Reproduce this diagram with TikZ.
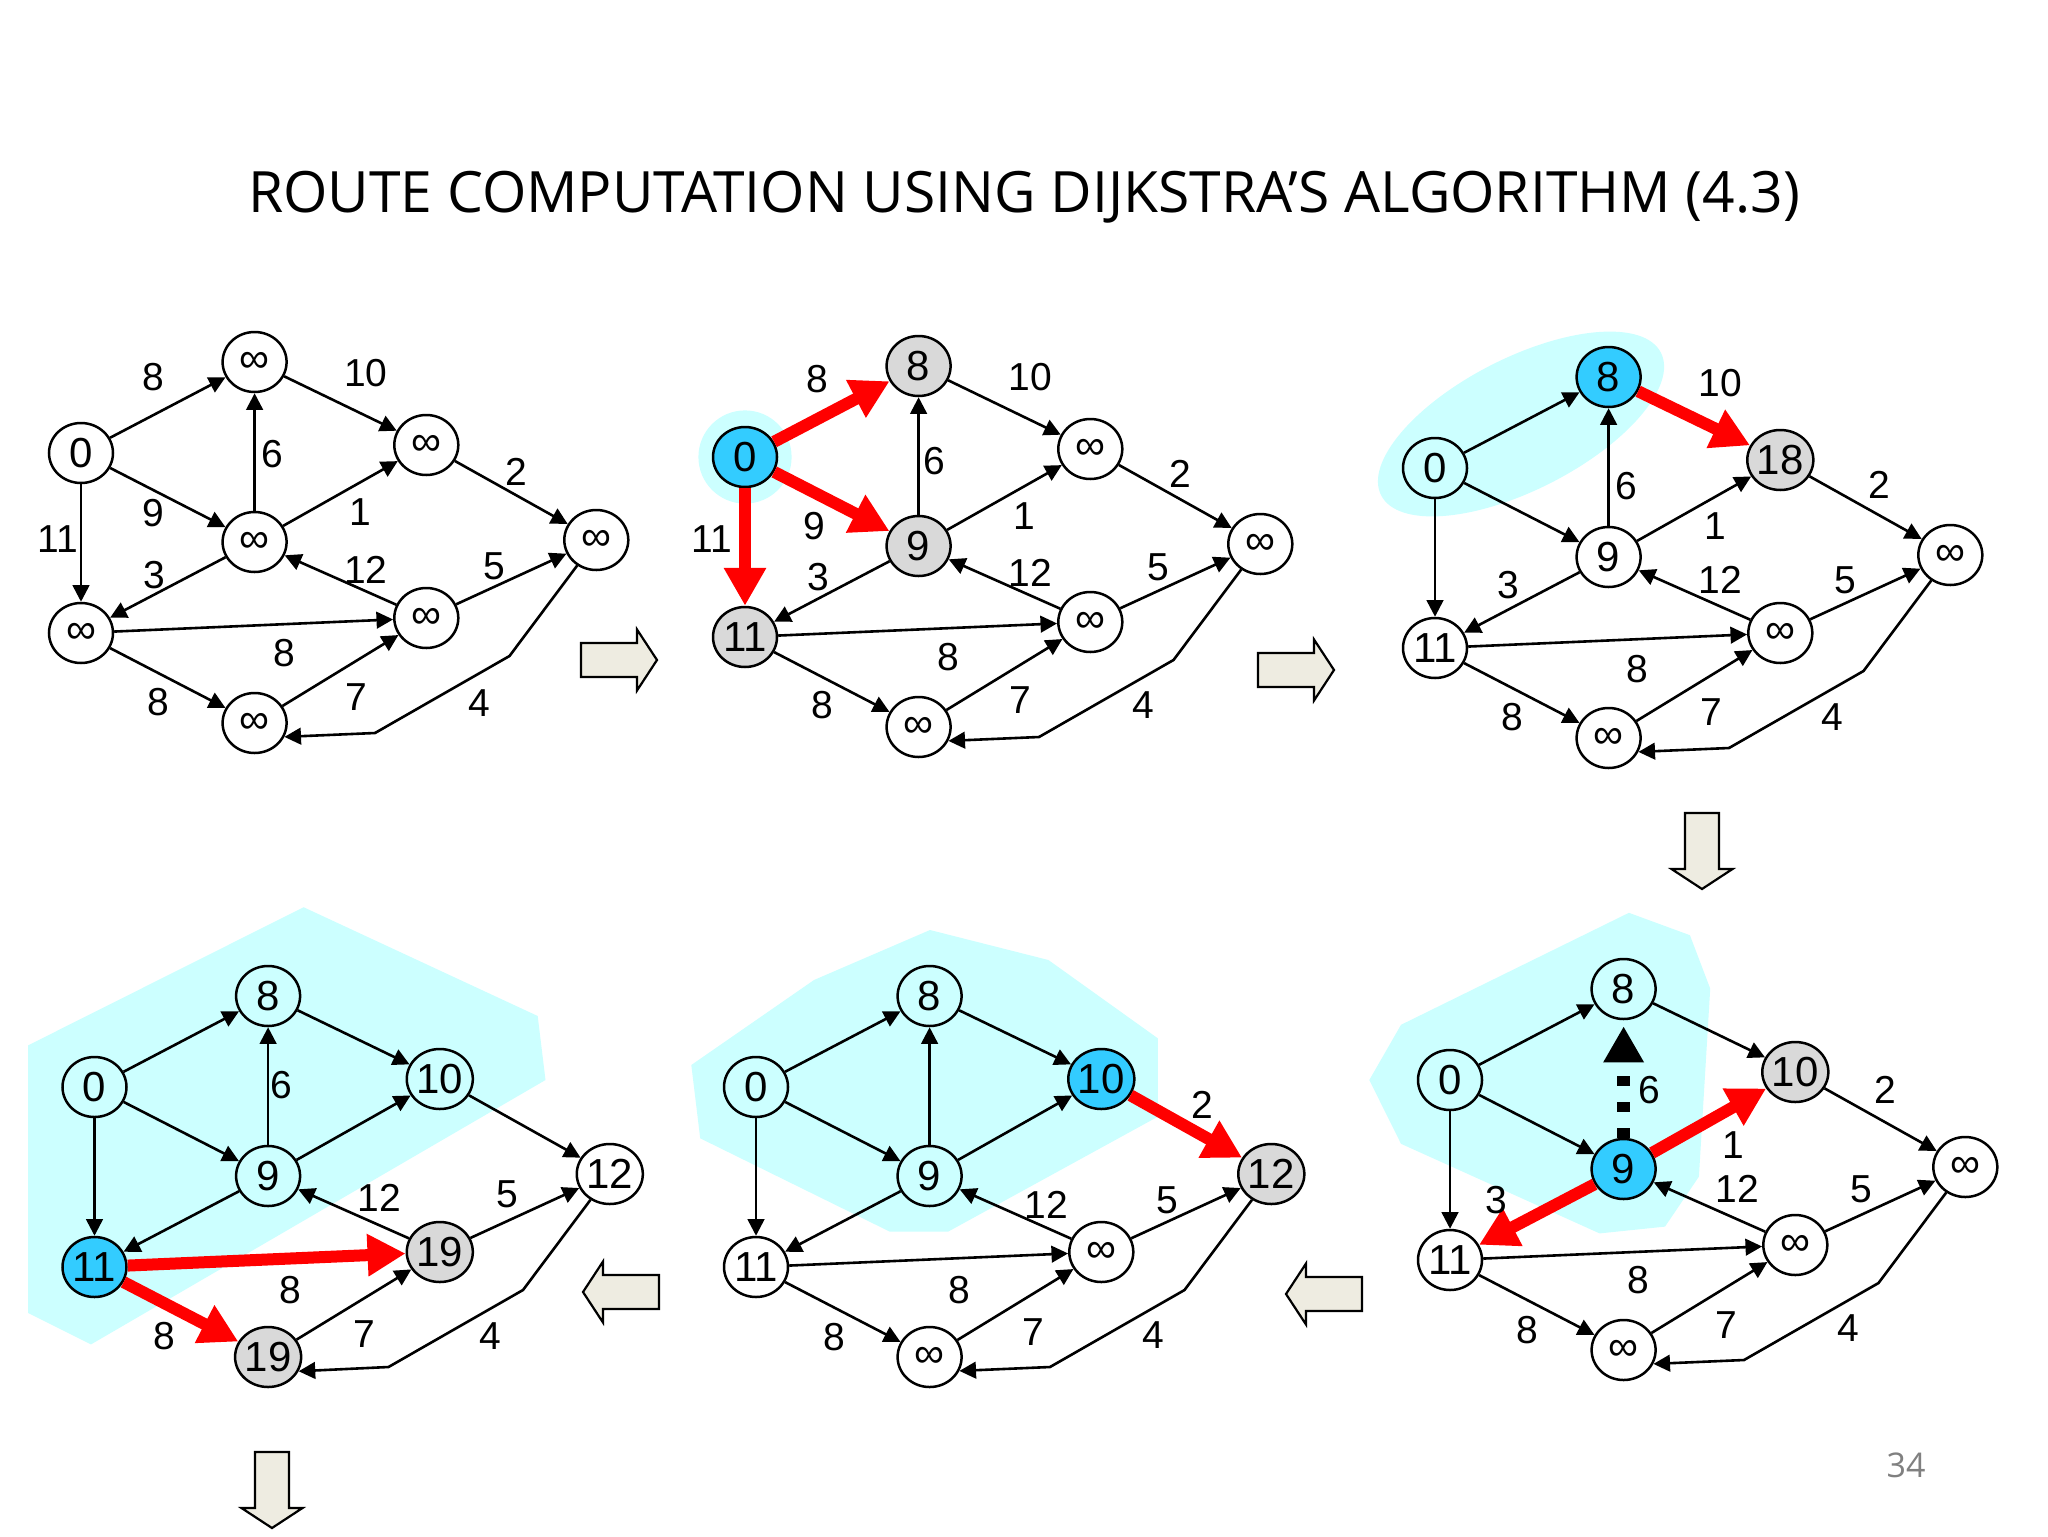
\documentclass[tikz,border=0pt]{standalone}
\usepackage{fontspec}
\setmainfont{Liberation Sans}
\newfontfamily\titlefont{Open Sans}
\newfontfamily\numfont{Liberation Sans}
\usetikzlibrary{arrows.meta,shapes.geometric}
\definecolor{nodeblue}{RGB}{51,204,255}
\definecolor{nodegray}{RGB}{217,217,217}
\definecolor{halocyan}{RGB}{204,255,255}
\definecolor{blockfill}{RGB}{238,236,225}
\definecolor{pagegray}{RGB}{128,128,128}
\tikzset{
  gnode/.style={ellipse, draw=black, line width=1.25pt, minimum width=32pt, minimum height=30pt, inner sep=0pt, font=\numfont\fontsize{21}{21}\selectfont},
  bluenode/.style={fill=nodeblue},
  graynode/.style={fill=nodegray},
  thinarrow/.style={draw=black, line width=1.3pt, -{Triangle[length=8.3pt,width=8.3pt]}},
  redarrow/.style={draw=red, line width=6pt, -{Triangle[length=19pt,width=20pt]}},
  dasharrow/.style={draw=black, line width=6.3pt, dash pattern=on 5pt off 8pt, -{Triangle[length=18pt,width=19pt]}, shorten >=3pt},
  elabel/.style={font=\numfont\fontsize{19.5}{19.5}\selectfont, inner sep=0pt},
  halo/.style={fill=halocyan},
  blockstyle/.style={draw=black, line width=1.1pt, fill=blockfill},
  blockarr/.pic={\draw[blockstyle] (0,-17) -- (56,-17) -- (56,-30.5) -- (76,0) -- (56,30.5) -- (56,17) -- (0,17) -- cycle;}
}
\newcommand\gnd[5]{\node[gnode,#2] (#1) at (#3,#4) {#5};}
\newcommand\elab[4]{\node[elabel] (#1) at (#2,#3) {#4};}
\newcommand\thinset[2]{\foreach \u/\v in {#2}{\draw[thinarrow] (#1\u) -- (#1\v);}}
\newcommand\kinkset[1]{\coordinate (#1k1) at (509.5,656); \coordinate (#1k2) at (375,733); \draw[thinarrow] (#1d) -- (#1k1) -- (#1k2) -- (#1g.-25);}
\begin{document}
\begin{tikzpicture}[x=0.5pt,y=-0.5pt]
\fill[white] (0,0) rectangle (2048,1536);
\useasboundingbox (0,0) rectangle (2048,1536);

% title and page number
\node[font=\titlefont\fontsize{28.5}{30}\selectfont] (title) at (1024,197) {ROUTE COMPUTATION USING DIJKSTRA’S ALGORITHM (4.3)};
\node[font=\titlefont\fontsize{17}{17}\selectfont, text=pagegray] (pagenum) at (1906,1465) {34};

% halos (absolute)
\fill[halo] (303.6,907.2) -- (537.7,1016) -- (545.5,1080) -- (91,1344.4) -- (28.2,1313) -- (28.2,1045.3) -- cycle;
\fill[halo] (930,930) -- (1048.4,960) -- (1157.8,1038.3) -- (1157.8,1116.7) -- (948,1231.7) -- (889.9,1231.7) -- (700.2,1138.3) -- (691.3,1065) -- (814,980) -- cycle;
\fill[halo] (1628.9,912.8) -- (1689.9,935.2) -- (1710.2,988.6) -- (1698.9,1176.6) -- (1665,1226.6) -- (1599.6,1233.4) -- (1401,1143.8) -- (1369.3,1080) -- (1401,1024.8) -- cycle;

% block arrows
\pic at (581,660) {blockarr};
\pic at (1258,670) {blockarr};
\pic[rotate=-90] at (1702,813) {blockarr};
\pic[rotate=180] at (1362,1294) {blockarr};
\pic[rotate=180] at (659,1292) {blockarr};
\pic[rotate=-90] at (272,1452) {blockarr};

% ---------------- panel 1
\begin{scope}
\gnd{p1s}{}{81}{453}{0}
\gnd{p1a}{}{254.6}{362}{∞}
\gnd{p1b}{}{426.3}{445}{∞}
\gnd{p1c}{}{254.6}{542}{∞}
\gnd{p1d}{}{596.3}{540}{∞}
\gnd{p1e}{}{81}{633}{∞}
\gnd{p1f}{}{426.3}{618}{∞}
\gnd{p1g}{}{254.6}{723}{∞}
\thinset{p1}{s/a,a/b,c/a,b/d,s/c,c/b,s/e,c/e,f/c,f/d,e/f,e/g,g/f}
\kinkset{p1}
\elab{p1l1}{153}{377}{8}
\elab{p1l2}{366}{373}{10}
\elab{p1l3}{272}{454}{6}
\elab{p1l4}{516}{472}{2}
\elab{p1l5}{153}{513}{9}
\elab{p1l6}{360}{512}{1}
\elab{p1l7}{58}{539}{11}
\elab{p1l8}{154}{575}{3}
\elab{p1l9}{366}{570}{12}
\elab{p1l10}{494}{566}{5}
\elab{p1l11}{284}{653}{8}
\elab{p1l12}{158}{702}{8}
\elab{p1l13}{356}{697}{7}
\elab{p1l14}{479}{703}{4}
\end{scope}

% ---------------- panel 2
\begin{scope}[shift={(664,4)}]
\fill[halo] (81,453) circle [radius=23.3pt];
\gnd{p2s}{bluenode}{81}{453}{0}
\gnd{p2a}{graynode}{254.6}{362}{8}
\gnd{p2b}{}{426.3}{445}{∞}
\gnd{p2c}{graynode}{254.6}{542}{9}
\gnd{p2d}{}{596.3}{540}{∞}
\gnd{p2e}{graynode}{81}{633}{11}
\gnd{p2f}{}{426.3}{618}{∞}
\gnd{p2g}{}{254.6}{723}{∞}
\thinset{p2}{a/b,c/a,b/d,c/b,c/e,f/c,f/d,e/f,e/g,g/f}
\kinkset{p2}
\draw[redarrow] (p2s) -- (p2a);
\draw[redarrow] (p2s) -- (p2c);
\draw[redarrow] (p2s) -- (p2e);
\elab{p2l1}{153}{375}{8}
\elab{p2l2}{366}{373}{10}
\elab{p2l3}{270}{457}{6}
\elab{p2l4}{516}{470}{2}
\elab{p2l5}{150}{522}{9}
\elab{p2l6}{360}{512}{1}
\elab{p2l7}{48}{535}{11}
\elab{p2l8}{154}{573}{3}
\elab{p2l9}{366}{569}{12}
\elab{p2l10}{494}{563}{5}
\elab{p2l11}{284}{653}{8}
\elab{p2l12}{158}{701}{8}
\elab{p2l13}{356}{696}{7}
\elab{p2l14}{479}{701}{4}
\end{scope}

% ---------------- panel 3
\begin{scope}[shift={(1354,15)}]
\fill[halo, rotate around={27:(167,409)}] (167,409) ellipse [x radius=78.5pt, y radius=33pt];
\gnd{p3s}{}{81}{453}{0}
\gnd{p3a}{bluenode}{254.6}{362}{8}
\gnd{p3b}{graynode}{426.3}{445}{18}
\gnd{p3c}{}{254.6}{542}{9}
\gnd{p3d}{}{596.3}{540}{∞}
\gnd{p3e}{}{81}{633}{11}
\gnd{p3f}{}{426.3}{618}{∞}
\gnd{p3g}{}{254.6}{723}{∞}
\thinset{p3}{s/a,c/a,b/d,s/c,c/b,s/e,c/e,f/c,f/d,e/f,e/g,g/f}
\kinkset{p3}
\draw[redarrow] (p3a) -- (p3b);
\elab{p3l2}{366}{368}{10}
\elab{p3l3}{272}{471}{6}
\elab{p3l4}{525}{470}{2}
\elab{p3l6}{361}{511}{1}
\elab{p3l8}{154}{570}{3}
\elab{p3l9}{366}{565}{12}
\elab{p3l10}{491}{565}{5}
\elab{p3l11}{283}{654}{8}
\elab{p3l12}{158}{702}{8}
\elab{p3l13}{357}{697}{7}
\elab{p3l14}{478}{702}{4}
\end{scope}

% ---------------- panel 4
\begin{scope}[shift={(13.5,634)}]
\gnd{p4s}{}{81}{453}{0}
\gnd{p4a}{}{254.6}{362}{8}
\gnd{p4b}{}{426.3}{445}{10}
\gnd{p4c}{}{254.6}{542}{9}
\gnd{p4d}{}{596.3}{540}{12}
\gnd{p4e}{bluenode}{81}{633}{11}
\gnd{p4f}{graynode}{426.3}{618}{19}
\gnd{p4g}{graynode}{254.6}{723}{19}
\thinset{p4}{s/a,a/b,c/a,b/d,s/c,c/b,s/e,c/e,f/c,f/d,g/f}
\kinkset{p4}
\draw[redarrow] (p4e) -- (p4f);
\draw[redarrow] (p4e) -- (p4g);
\elab{p4l3}{268}{451}{6}
\elab{p4l9}{366}{564}{12}
\elab{p4l10}{494}{560}{5}
\elab{p4l11}{277}{656}{8}
\elab{p4l12}{151}{702}{8}
\elab{p4l13}{351}{700}{7}
\elab{p4l14}{477}{702}{4}
\end{scope}

% ---------------- panel 5
\begin{scope}[shift={(675,634)}]
\gnd{p5s}{}{81}{453}{0}
\gnd{p5a}{}{254.6}{362}{8}
\gnd{p5b}{bluenode}{426.3}{445}{10}
\gnd{p5c}{}{254.6}{542}{9}
\gnd{p5d}{graynode}{596.3}{540}{12}
\gnd{p5e}{}{81}{633}{11}
\gnd{p5f}{}{426.3}{618}{∞}
\gnd{p5g}{}{254.6}{723}{∞}
\thinset{p5}{s/a,a/b,c/a,s/c,c/b,s/e,c/e,f/c,f/d,e/f,e/g,g/f}
\kinkset{p5}
\draw[redarrow] (p5b) -- (p5d);
\elab{p5l4}{527}{471}{2}
\elab{p5l9}{371}{571}{12}
\elab{p5l10}{492}{566}{5}
\elab{p5l11}{284}{656}{8}
\elab{p5l12}{159}{703}{8}
\elab{p5l13}{358}{698}{7}
\elab{p5l14}{478}{701}{4}
\end{scope}

% ---------------- panel 6
\begin{scope}[shift={(1369,627)}]
\gnd{p6s}{}{81}{453}{0}
\gnd{p6a}{}{254.6}{362}{8}
\gnd{p6b}{graynode}{426.3}{445}{10}
\gnd{p6c}{bluenode}{254.6}{542}{9}
\gnd{p6d}{}{596.3}{540}{∞}
\gnd{p6e}{}{81}{633}{11}
\gnd{p6f}{}{426.3}{618}{∞}
\gnd{p6g}{}{254.6}{723}{∞}
\thinset{p6}{s/a,a/b,b/d,s/c,s/e,f/c,f/d,e/f,e/g,g/f}
\kinkset{p6}
\draw[dasharrow] (p6c) -- (p6a);
\draw[redarrow] (p6c) -- (p6b);
\draw[redarrow] (p6c) -- (p6e);
\elab{p6l3}{280}{463}{6}
\elab{p6l6}{364}{518}{1}
\elab{p6l4}{516}{463}{2}
\elab{p6l8}{127}{573}{3}
\elab{p6l9}{368}{562}{12}
\elab{p6l10}{492}{562}{5}
\elab{p6l11}{269}{653}{8}
\elab{p6l12}{158}{703}{8}
\elab{p6l13}{357}{698}{7}
\elab{p6l14}{479}{701}{4}
\end{scope}
\end{tikzpicture}
\end{document}
